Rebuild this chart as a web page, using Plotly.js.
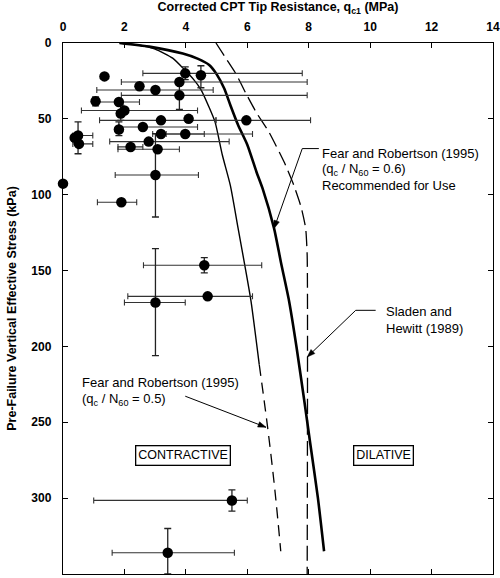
<!DOCTYPE html>
<html>
<head>
<meta charset="utf-8">
<script src="https://cdn.plot.ly/plotly-3.0.1.min.js"></script>
<style>
  html, body { margin: 0; padding: 0; background: #fff; }
  #chart { width: 500px; height: 578px; }
</style>
</head>
<body>
<div id="chart"></div>
<script>
// ---- Case history points: corrected CPT tip resistance (MPa) vs pre-failure vertical effective stress (kPa)
const pointQc     = [1.35, 3.98, 4.49, 3.79, 2.49, 3.01, 3.79, 1.06, 1.82, 2.0, 1.88, 3.19, 4.09, 5.97, 2.6, 1.82, 0.49, 0.38, 0.52, 3.19, 3.98, 2.79, 2.2, 3.08, 3.01, 0, 1.9, 4.6, 4.71, 3.01, 5.5, 3.41];
const pointStress = [22, 20, 21.3, 25.7, 28.5, 31, 34.5, 38.4, 38.9, 44.5, 46.5, 51, 50, 51, 55.4, 57, 61, 62.5, 66.5, 60, 60, 65, 68.5, 70, 87, 92.7, 105, 146.5, 167, 171, 301.5, 336];
// range bars (null = no bar)
const qcLow       = [null, 2.6, null, 1.9, null, 1.1, 1.9, null, 1.06, 0.6, null, 1.19, null, 4.98, 1.82, null, 0.32, null, 0.32, 2.92, 3.36, 1.52, 1.79, 1.79, 1.7, null, 1.12, 2.62, 2.11, 2.0, 1.0, 1.6];
const qcHigh      = [null, 7.79, null, 7.95, null, 4.89, 7.95, null, 2.49, 4.38, null, 4.98, null, 8.06, 4.38, null, 0.97, null, 0.97, 6.17, 4.6, 5.41, 2.6, 3.79, 4.41, null, 2.4, 6.47, 6.17, 3.98, 6.0, 5.58];
const stressLow   = [null, 15.8, 15, null, null, null, 25.5, 35.6, null, null, 41, null, null, null, null, 52, 52, null, null, null, null, null, null, null, 59.7, null, null, 141.5, null, 135.5, 294.5, 320];
const stressHigh  = [null, 24.2, 29.5, null, null, null, 43.7, 41.5, null, null, 51, null, null, null, null, 61, 73, null, null, null, null, null, null, null, 114.7, null, null, 151.5, null, 206, 308.5, 350];

// ---- Fear and Robertson (1995), qc/N60 = 0.6 (recommended)
const fr06Qc     = [1.84, 2.81, 3.9, 4.4, 4.76, 5.0, 5.25, 5.45, 5.7, 6.0, 6.3, 6.5, 6.87, 7.1, 7.36, 7.6, 7.85, 8.05, 8.3, 8.5];
const fr06Stress = [0, 2.4, 7, 10.5, 14.5, 20.5, 30, 41, 54, 67, 85, 96, 122, 145, 170, 200, 235, 264, 300, 335];
// ---- Fear and Robertson (1995), qc/N60 = 0.5 (solid part, then dashed extension)
const fr05Qc       = [1.84, 2.5, 3.0, 3.57, 3.95, 4.25, 4.5, 4.75, 4.95, 5.19, 5.45, 5.7, 5.95, 6.12, 6.39];
const fr05Stress   = [0, 1.5, 4, 10, 17.5, 24, 31, 42, 52, 74, 94, 122, 150, 170, 212];
const fr05ExtQc     = [6.39, 6.66, 6.9, 7.09];
const fr05ExtStress = [212, 253, 295, 335];
// ---- Sladen and Hewitt (1989)
const shQc     = [4.98, 5.3, 5.65, 5.95, 6.3, 6.7, 7.2, 7.5, 7.75, 7.9, 7.95, 7.95];
const shStress = [0, 10, 21, 33, 46, 58.5, 78.5, 93, 108, 122, 140, 350];

// tick labels
const xTicks = [0, 2, 4, 6, 8, 10, 12, 14];
const yTicks = [0, 50, 100, 150, 200, 250, 300, 350];

function plusErr(val, hi) { return val.map((v, i) => hi[i] == null ? NaN : hi[i] - v); }
function minusErr(val, lo) { return val.map((v, i) => lo[i] == null ? NaN : v - lo[i]); }

const FONT = 'Liberation Sans, Arial, Helvetica, sans-serif';

// layout geometry (px)
const M = { l: 63, r: 7, t: 43, b: 4 };
const W = 500, H = 578;
const SX = (W - M.l - M.r) / 14;   // px per MPa
const SY = (H - M.t - M.b) / 350;  // px per kPa

const traces = [
  { x: fr05Qc, y: fr05Stress, mode: 'lines', line: { color: '#000', width: 1.4, shape: 'spline', smoothing: 0.6 }, hoverinfo: 'skip', showlegend: false },
  { x: fr05ExtQc, y: fr05ExtStress, mode: 'lines', line: { color: '#000', width: 1.3, dash: '11px,7px', shape: 'spline' }, hoverinfo: 'skip', showlegend: false },
  { x: fr06Qc, y: fr06Stress, mode: 'lines', line: { color: '#000', width: 2.6, shape: 'spline', smoothing: 0.6 }, hoverinfo: 'skip', showlegend: false },
  { x: shQc, y: shStress, mode: 'lines', line: { color: '#000', width: 1.3, dash: '15px,6px', shape: 'spline', smoothing: 0.5 }, hoverinfo: 'skip', showlegend: false },
  {
    x: pointQc, y: pointStress, mode: 'markers', cliponaxis: false, showlegend: false,
    marker: { color: '#000', size: 10.5, line: { width: 0 } },
    error_x: { type: 'data', symmetric: false, array: plusErr(pointQc, qcHigh), arrayminus: minusErr(pointQc, qcLow), color: '#333', thickness: 1.1, width: 3 },
    error_y: { type: 'data', symmetric: false, array: plusErr(pointStress, stressHigh), arrayminus: minusErr(pointStress, stressLow), color: '#222', thickness: 1.3, width: 3.5 }
  }
];

const txtFont = { family: FONT, size: 13, color: '#000' };
function label(text, x, y, extra) {
  return Object.assign({ text: text, x: x, y: y, xref: 'x', yref: 'y', showarrow: false, xanchor: 'left', yanchor: 'middle', font: txtFont }, extra || {});
}
// leader line (polyline) ending in a filled arrow head, as shapes
function leader(points) {
  const shapes = [];
  for (let i = 0; i < points.length - 1; i++) {
    shapes.push({ type: 'line', xref: 'x', yref: 'y', x0: points[i][0], y0: points[i][1], x1: points[i + 1][0], y1: points[i + 1][1], line: { color: '#000', width: 1 } });
  }
  const a = points[points.length - 2], b = points[points.length - 1];
  const dx = (b[0] - a[0]) * SX, dy = (b[1] - a[1]) * SY;
  const len = Math.hypot(dx, dy), ux = dx / len, uy = dy / len;
  const L = 8, Hw = 2.8;
  const bx = -ux * L, by = -uy * L;
  const p1 = [b[0] + (bx - uy * Hw) / SX, b[1] + (by + ux * Hw) / SY];
  const p2 = [b[0] + (bx + uy * Hw) / SX, b[1] + (by - ux * Hw) / SY];
  shapes.push({ type: 'path', xref: 'x', yref: 'y', path: `M ${b[0]} ${b[1]} L ${p1[0]} ${p1[1]} L ${p2[0]} ${p2[1]} Z`, fillcolor: '#000', line: { color: '#000', width: 0.5 } });
  return shapes;
}

const layout = {
  width: W, height: H,
  margin: M,
  paper_bgcolor: '#fff', plot_bgcolor: '#fff',
  font: { family: FONT, size: 12, color: '#000' },
  xaxis: {
    side: 'top', range: [0, 14], tickvals: xTicks, ticktext: xTicks.map(String),
    ticks: 'inside', ticklen: 5, tickwidth: 1, tickcolor: '#000',
    showline: true, linecolor: '#000', linewidth: 1.2, mirror: 'ticks',
    showgrid: false, zeroline: false, ticklabelstandoff: 6,
    tickfont: { family: FONT, size: 12, weight: 'bold' },
    title: { text: 'Corrected CPT Tip Resistance, q<sub>c1</sub> (MPa)', font: { family: FONT, size: 12.5, weight: 'bold' }, standoff: 6 }
  },
  yaxis: {
    range: [350, 0], tickvals: yTicks, ticktext: yTicks.map(String),
    ticks: 'inside', ticklen: 5, tickwidth: 1, tickcolor: '#000',
    showline: true, linecolor: '#000', linewidth: 1.2, mirror: 'ticks',
    showgrid: false, zeroline: false, ticklabelstandoff: 8,
    tickfont: { family: FONT, size: 12, weight: 'bold' },
    title: { text: 'Pre-Failure Vertical Effective Stress (kPa)', font: { family: FONT, size: 12.5, weight: 'bold' }, standoff: 12 }
  },
  shapes: [].concat(
    leader([[8.33, 69.6], [7.79, 69.6], [6.87, 122.3]]),
    leader([[10.18, 176.2], [9.53, 176.2], [7.95, 207]]),
    leader([[3.98, 232.8], [6.61, 253.3]])
  ),
  annotations: [
    label('Fear and Robertson (1995)', 8.37, 72.7),
    label('(q<sub>c</sub> / N<sub>60</sub> = 0.6)', 8.37, 83.6),
    label('Recommended for Use', 8.37, 94.2),
    label('Sladen and', 10.44, 177.3),
    label('Hewitt (1989)', 10.44, 188.3),
    label('Fear and Robertson (1995)', 0.55, 223.7),
    label('(q<sub>c</sub> / N<sub>60</sub> = 0.5)', 0.55, 234.9),
    label('CONTRACTIVE', 3.92, 271.6, { xanchor: 'center', bordercolor: '#000', borderwidth: 1.3, borderpad: 2, bgcolor: '#fff', font: { family: FONT, size: 12.5, color: '#000' } }),
    label('DILATIVE', 10.42, 271.6, { xanchor: 'center', bordercolor: '#000', borderwidth: 1.3, borderpad: 2, bgcolor: '#fff', font: { family: FONT, size: 12.5, color: '#000' } })
  ]
};

Plotly.newPlot('chart', traces, layout, { staticPlot: true, displayModeBar: false });
</script>
</body>
</html>
